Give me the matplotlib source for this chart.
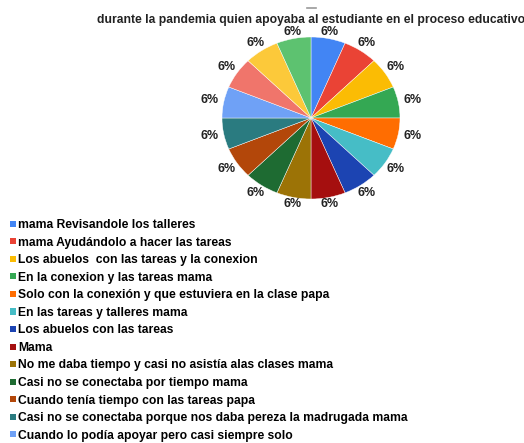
import numpy as np
import matplotlib.pyplot as plt
from matplotlib.patches import Patch
from matplotlib.lines import Line2D

plt.rcParams['font.family'] = ['Liberation Sans', 'DejaVu Sans']

title = "durante la pandemia quien apoyaba al estudiante en el proceso educativo"

# legend names that can be read (the last three are cut off in the original)
categories = [
    "mama Revisandole los talleres",
    "mama Ayudándolo a hacer las tareas",
    "Los abuelos  con las tareas y la conexion",
    "En la conexion y las tareas mama",
    "Solo con la conexión y que estuviera en la clase papa",
    "En las tareas y talleres mama",
    "Los abuelos con las tareas",
    "Mama",
    "No me daba tiempo y casi no asistía alas clases mama",
    "Casi no se conectaba por tiempo mama",
    "Cuando tenía tiempo con las tareas papa",
    "Casi no se conectaba porque nos daba pereza la madrugada mama",
    "Cuando lo podía apoyar pero casi siempre solo",
]
# one answer each, 16 slices
counts = [1] * 16

colors = ["#4285f4", "#ea4335", "#fbbc04", "#34a853", "#ff6d01", "#46bdc6",
          "#1c44b2", "#a50f0f", "#9c7306", "#1e6b32", "#b3470a", "#2a7b80",
          "#6fa1f6", "#f0756b", "#fcc93a", "#5dc270"]

W, H = 524, 443
fig = plt.figure(figsize=(W / 100, H / 100), dpi=100)

# pie centre and radii in pixels, squashed a little to get the oval look
cx, cy, rx, ry = 311, 118, 89, 81
ax = fig.add_axes([(cx - 1.25 * rx) / W, 1 - (cy + 1.25 * ry) / H,
                   2.5 * rx / W, 2.5 * ry / H])
wedges, texts = ax.pie(counts, colors=colors, startangle=90,
                       counterclock=False,
                       wedgeprops=dict(edgecolor="white", linewidth=0.3))
ax.set_aspect('auto')

# percentage labels just outside the rim
total = sum(counts)
for w, c in zip(wedges, counts):
    ang = np.deg2rad((w.theta1 + w.theta2) / 2)
    r = 1.06 + 0.1 * abs(np.cos(ang))
    ax.text(r * np.cos(ang), r * np.sin(ang), "%d%%" % (100 * c / total),
            ha="center", va="center", fontsize=9, fontweight="bold",
            color="#222222")

fig.text(cx / W, 1 - 20 / H, title, ha="center", va="center",
         fontsize=8.7, fontweight="bold", color="#222222")
fig.add_artist(Line2D([307 / W, 316 / W], [1 - 8 / H, 1 - 8 / H],
                      color="#9a9a9a", linewidth=1.2))

handles = [Patch(facecolor=colors[i], edgecolor="none")
           for i in range(len(categories))]
fig.legend(handles, categories, loc="upper left",
           bbox_to_anchor=(10 / W, 1 - 219 / H), frameon=False,
           handlelength=0.5, handleheight=0.4,
           handletextpad=0.2, labelspacing=0.46, borderaxespad=0,
           borderpad=0, prop=dict(weight="bold", size=8.7))

fig.savefig("out.png", dpi=100)
